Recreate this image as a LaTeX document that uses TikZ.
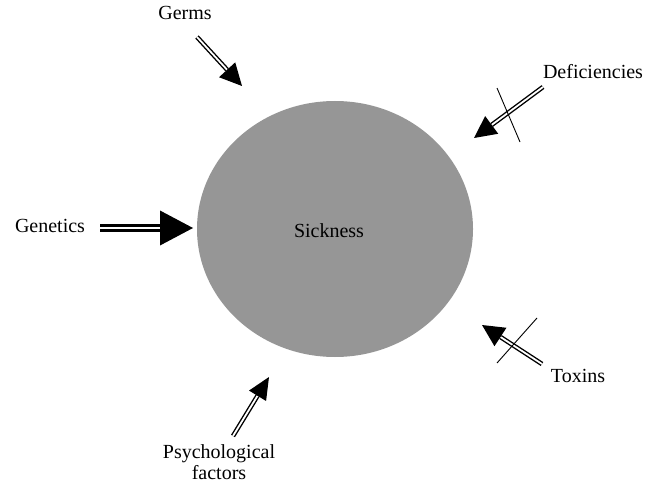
\documentclass[tikz,border=0pt]{standalone}
\usepackage{fontspec}
\setmainfont{Liberation Serif}
\usetikzlibrary{calc,shapes.geometric}
\tikzset{
  lbl/.style={font=\fontsize{20}{22}\selectfont, inner sep=0pt, align=center},
  crossline/.style={line width=0.9pt},
}
% tail, tip, head length, head half width, line width, gap
\newcommand{\dblarr}[6]{%
  \path ($(#2)!#3!(#1)$) coordinate (hb);
  \draw[line width=#5, double=white, double distance=#6] (#1) -- (hb);
  \fill ($(hb)!#4!90:(#2)$) -- (#2) -- ($(hb)!#4!-90:(#2)$) -- cycle;
}
\begin{document}
\begin{tikzpicture}[x=1pt,y=-1pt]
\useasboundingbox (0,0) rectangle (655,486);
\node[ellipse, fill={rgb,255:red,150;green,150;blue,150}, minimum width=276pt, minimum height=256pt, inner sep=0pt] (sick) at (335,229) {};
\node[lbl] (sicktxt) at (329,231) {Sickness};

\node[lbl] (germs) at (185,13) {Germs};
\node[lbl] (defic) at (593,72) {Deficiencies};
\node[lbl] (genet) at (50,226) {Genetics};
\node[lbl] (toxins) at (578,376) {Toxins};
\node[lbl, font=\fontsize{20}{21}\selectfont, text depth=0pt] (psych) at (219,462) {Psychological\\factors};

\coordinate (gt) at (197,37);  \coordinate (gh) at (242,86);
\coordinate (dt) at (543,87);  \coordinate (dh) at (474,138);
\coordinate (et) at (100,228); \coordinate (eh) at (193,228);
\coordinate (tt) at (542,364); \coordinate (th) at (482,325);
\coordinate (pt) at (233,436); \coordinate (ph) at (269,377);

\dblarr{gt}{gh}{22pt}{11pt}{1.4pt}{1.8pt}
\dblarr{dt}{dh}{22pt}{11pt}{1.4pt}{1.8pt}
\dblarr{et}{eh}{33pt}{17.5pt}{3.6pt}{1.4pt}
\dblarr{tt}{th}{22pt}{11pt}{1.4pt}{1.8pt}
\dblarr{pt}{ph}{22pt}{10pt}{1.4pt}{1.8pt}

\coordinate (dc1) at (497,88); \coordinate (dc2) at (520,142);
\coordinate (tc1) at (537,318); \coordinate (tc2) at (497,363);
\draw[crossline] (dc1) -- (dc2);
\draw[crossline] (tc1) -- (tc2);
\end{tikzpicture}
\end{document}
